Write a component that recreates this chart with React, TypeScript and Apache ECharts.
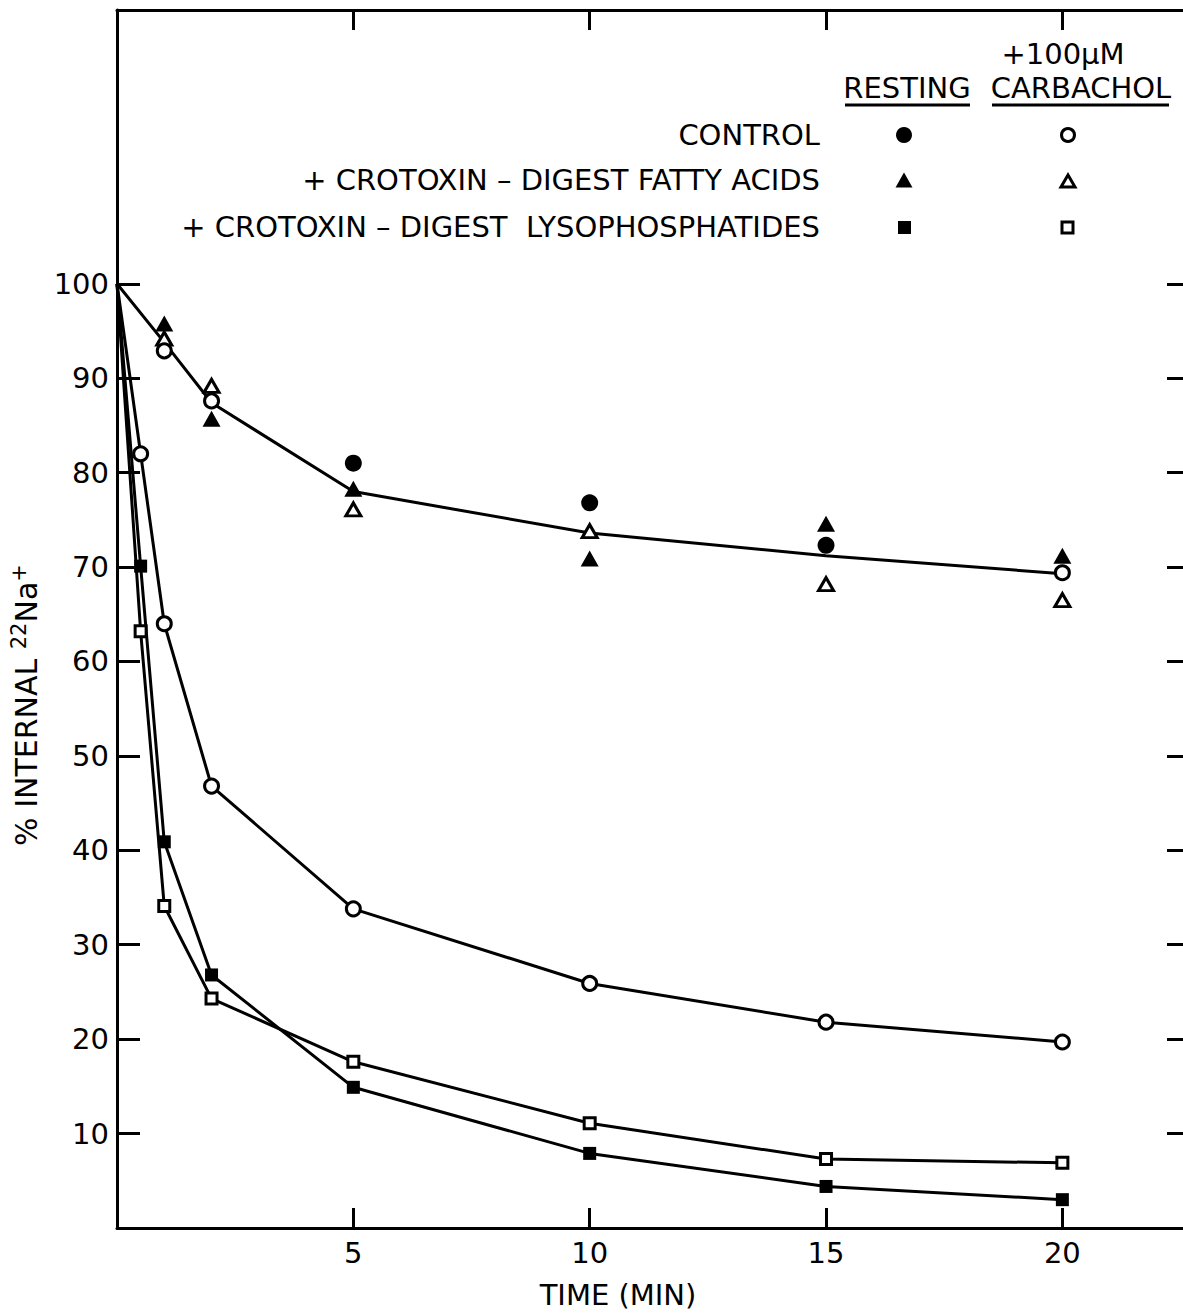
import React, { useEffect, useRef } from "react";
import * as echarts from "echarts";

// ---- data ----
const lowerTimes = [0, 0.5, 1, 2, 5, 10, 15, 20];
const controlCarbachol = [100, 82.0, 64.0, 46.8, 33.8, 25.9, 21.8, 19.7];
const lysoResting = [100, 70.1, 40.9, 26.8, 14.9, 7.9, 4.4, 3.0];
const lysoCarbachol = [100, 63.2, 34.1, 24.3, 17.6, 11.1, 7.3, 6.9];

const upperFitTimes = [0, 1, 2, 5, 10, 15, 20];
const upperFit = [100, 93.8, 87.4, 78.0, 73.6, 71.2, 69.3];

const faTimes = [1, 2, 5, 10, 15, 20];
const fattyAcidResting = [95.8, 85.7, 78.3, 70.9, 74.6, 71.2];
const fattyAcidCarbachol = [94.2, 89.2, 76.1, 73.8, 68.2, 66.5];

const controlRestingTimes = [5, 10, 15];
const controlResting = [81.0, 76.8, 72.3];

const upperOpenTimes = [1, 2, 20];
const upperOpenCircles = [92.9, 87.6, 69.4];

const xTickValues = [5, 10, 15, 20];
const yTickValues = [10, 20, 30, 40, 50, 60, 70, 80, 90, 100];

const FONT = "DejaVu Sans";
const BLACK = "#000";

const pairs = (xs: number[], ys: number[], hideFirst = false) =>
  xs.map((x, i) =>
    hideFirst && i === 0 ? { value: [x, ys[i]], symbol: "none" } : [x, ys[i]]
  );

const openStyle = { color: "#fff", borderColor: BLACK, borderWidth: 3, opacity: 1 };
const filledStyle = { color: BLACK, borderColor: BLACK, borderWidth: 0, opacity: 1 };

export default function App() {
  const ref = useRef<HTMLDivElement>(null);
  useEffect(() => {
    if (!ref.current) return;
    const chart = echarts.init(ref.current, null, { renderer: "svg" });

    const axisLine = { show: true, onZero: false, lineStyle: { color: BLACK, width: 3 } };
    const xTick = {
      show: true,
      inside: true,
      length: 20,
      customValues: xTickValues,
      lineStyle: { color: BLACK, width: 3 },
    };
    const yTick = {
      show: true,
      inside: true,
      length: 23,
      customValues: yTickValues,
      lineStyle: { color: BLACK, width: 3 },
    };

    const legendText = (text: string, x: number, y: number, align = "center") => ({
      type: "text",
      x,
      y,
      style: {
        text,
        fontFamily: FONT,
        fontSize: 29,
        fill: BLACK,
        textAlign: align,
        textVerticalAlign: "middle",
      },
    });

    const tri = (cx: number, cy: number, w: number, h: number) => [
      [cx - w / 2, cy + h / 2],
      [cx + w / 2, cy + h / 2],
      [cx, cy - h / 2],
    ];

    const option: any = {
      animation: false,
      backgroundColor: "#fff",
      textStyle: { fontFamily: FONT },
      grid: { left: 117, top: 10, right: 12, bottom: 85, containLabel: false },
      xAxis: [
        {
          type: "value",
          min: 0,
          max: 22.7,
          interval: 5,
          position: "bottom",
          axisLine,
          axisTick: xTick,
          axisLabel: {
            customValues: xTickValues,
            color: BLACK,
            fontSize: 29,
            fontFamily: FONT,
            margin: 10,
          },
          splitLine: { show: false },
        },
        {
          type: "value",
          min: 0,
          max: 22.7,
          interval: 5,
          position: "top",
          axisLine,
          axisTick: xTick,
          axisLabel: { show: false },
          splitLine: { show: false },
        },
      ],
      yAxis: [
        {
          type: "value",
          min: 0,
          max: 129,
          interval: 10,
          position: "left",
          axisLine,
          axisTick: yTick,
          axisLabel: {
            customValues: yTickValues,
            color: BLACK,
            fontSize: 29,
            fontFamily: FONT,
            margin: 8,
          },
          splitLine: { show: false },
        },
        {
          type: "value",
          min: 0,
          max: 129,
          interval: 10,
          position: "right",
          axisLine,
          axisTick: yTick,
          axisLabel: { show: false },
          splitLine: { show: false },
        },
      ],
      series: [
        {
          name: "Upper curve",
          type: "line",
          data: pairs(upperFitTimes, upperFit),
          showSymbol: false,
          symbol: "none",
          lineStyle: { color: BLACK, width: 3 },
          z: 2,
        },
        {
          name: "Control + carbachol",
          type: "line",
          data: pairs(lowerTimes, controlCarbachol, true),
          symbol: "circle",
          symbolSize: 14,
          lineStyle: { color: BLACK, width: 3 },
          itemStyle: openStyle,
          z: 3,
        },
        {
          name: "Lysophosphatides resting",
          type: "line",
          data: pairs(lowerTimes, lysoResting, true),
          symbol: "rect",
          symbolSize: 13,
          lineStyle: { color: BLACK, width: 3 },
          itemStyle: filledStyle,
          z: 3,
        },
        {
          name: "Lysophosphatides + carbachol",
          type: "line",
          data: pairs(lowerTimes, lysoCarbachol, true),
          symbol: "rect",
          symbolSize: 11,
          lineStyle: { color: BLACK, width: 3 },
          itemStyle: openStyle,
          z: 4,
        },
        {
          name: "Fatty acids resting",
          type: "scatter",
          data: pairs(faTimes, fattyAcidResting),
          symbol: "triangle",
          symbolSize: [18, 16],
          itemStyle: filledStyle,
          z: 5,
        },
        {
          name: "Fatty acids + carbachol",
          type: "scatter",
          data: pairs(faTimes, fattyAcidCarbachol),
          symbol: "triangle",
          symbolSize: [15, 13],
          itemStyle: openStyle,
          z: 5,
        },
        {
          name: "Control resting",
          type: "scatter",
          data: pairs(controlRestingTimes, controlResting),
          symbol: "circle",
          symbolSize: 17,
          itemStyle: filledStyle,
          z: 5,
        },
        {
          name: "Control (upper open)",
          type: "scatter",
          data: pairs(upperOpenTimes, upperOpenCircles),
          symbol: "circle",
          symbolSize: 14,
          itemStyle: openStyle,
          z: 5,
        },
      ],
      graphic: [
        legendText("+100\u03bcM", 1063, 54),
        legendText("RESTING", 907, 88),
        legendText("CARBACHOL", 1081, 88),
        {
          type: "line",
          shape: { x1: 845, y1: 105, x2: 970, y2: 105 },
          style: { stroke: BLACK, lineWidth: 3 },
        },
        {
          type: "line",
          shape: { x1: 992, y1: 105, x2: 1169, y2: 105 },
          style: { stroke: BLACK, lineWidth: 3 },
        },
        legendText("CONTROL", 820, 135, "right"),
        legendText("+ CROTOXIN \u2013 DIGEST FATTY ACIDS", 820, 180, "right"),
        legendText("+ CROTOXIN \u2013 DIGEST  LYSOPHOSPHATIDES", 820, 227, "right"),
        { type: "circle", shape: { cx: 904, cy: 135, r: 8 }, style: { fill: BLACK } },
        {
          type: "circle",
          shape: { cx: 1068, cy: 135, r: 6.5 },
          style: { fill: "#fff", stroke: BLACK, lineWidth: 3 },
        },
        { type: "polygon", shape: { points: tri(904, 180, 17, 15) }, style: { fill: BLACK } },
        {
          type: "polygon",
          shape: { points: tri(1068, 181, 14, 12) },
          style: { fill: "#fff", stroke: BLACK, lineWidth: 3 },
        },
        { type: "rect", shape: { x: 898, y: 221, width: 13, height: 13 }, style: { fill: BLACK } },
        {
          type: "rect",
          shape: { x: 1062, y: 222, width: 11, height: 11 },
          style: { fill: "#fff", stroke: BLACK, lineWidth: 3 },
        },
        {
          type: "text",
          x: 618,
          y: 1295,
          style: {
            text: "TIME (MIN)",
            fontFamily: FONT,
            fontSize: 29,
            fill: BLACK,
            textAlign: "center",
            textVerticalAlign: "middle",
          },
        },
        {
          type: "text",
          x: 26,
          y: 705,
          rotation: Math.PI / 2,
          style: {
            text: "{m|% INTERNAL }{s|22}{m|Na}{s|+}",
            fontFamily: FONT,
            fill: BLACK,
            textAlign: "center",
            textVerticalAlign: "middle",
            rich: {
              m: { fontFamily: FONT, fontSize: 30, lineHeight: 36, fill: BLACK },
              s: {
                fontFamily: FONT,
                fontSize: 21,
                lineHeight: 22,
                verticalAlign: "top",
                fill: BLACK,
              },
            },
          },
        },
      ],
    };

    chart.setOption(option);
    return () => chart.dispose();
  }, []);

  return (
    <div
      style={{
        position: "absolute",
        left: 0,
        top: 0,
        width: 1183,
        height: 1313,
        overflow: "hidden",
      }}
    >
      <div ref={ref} style={{ width: 1202, height: 1313 }} />
    </div>
  );
}
